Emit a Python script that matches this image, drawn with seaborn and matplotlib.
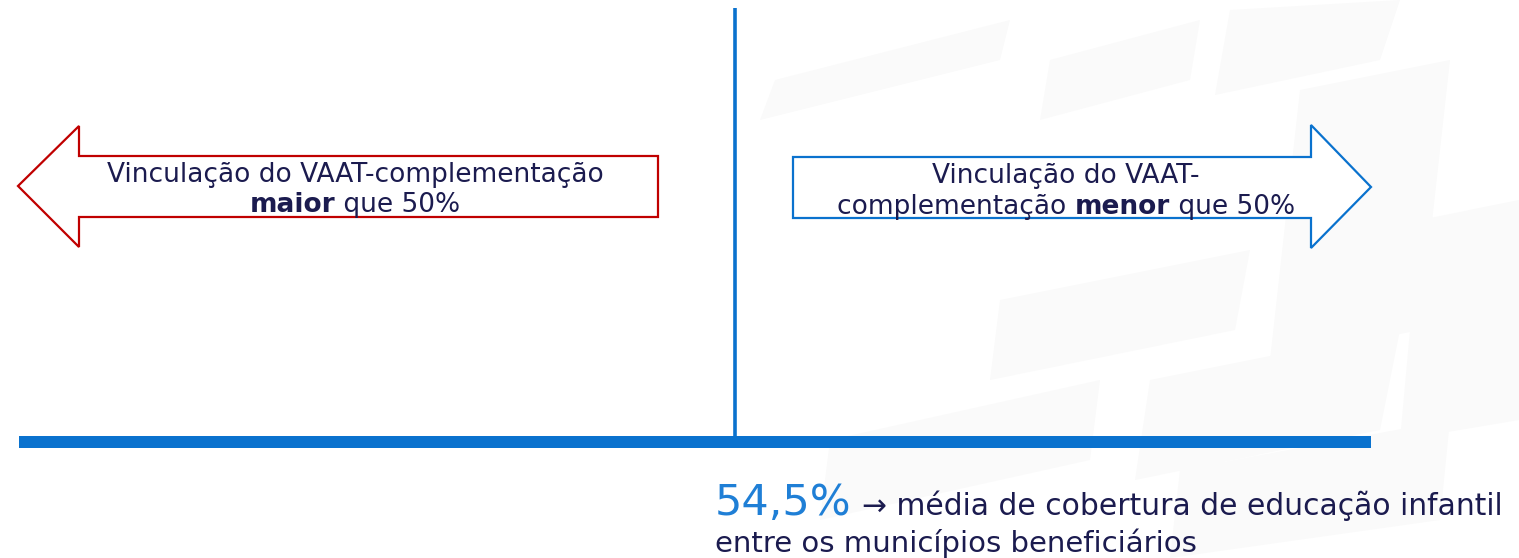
import matplotlib
matplotlib.use("Agg")
import matplotlib.pyplot as plt
from matplotlib.patches import Polygon, Rectangle
import seaborn as sns

# ---- content ----
left_lines = ["Vinculação do VAAT-complementação"]
left_bold = "maior"
left_tail = " que 50%"
right_lines = ["Vinculação do VAAT-"]
right_head = "complementação "
right_bold = "menor"
right_tail = " que 50%"
stat_value = "54,5%"
stat_text = ["\u2192 média de cobertura de educação infantil",
             "entre os municípios beneficiários"]

sns.set_theme(style="white")
plt.rcParams['font.family'] = ['DejaVu Sans']

W, H = 1519, 558
fig = plt.figure(figsize=(W / 100, H / 100), dpi=100)
ax = fig.add_axes([0, 0, 1, 1])
ax.set_xlim(0, W)
ax.set_ylim(H, 0)
ax.axis('off')

BLUE = "#0A72CE"
RED = "#C00000"
NAVY = "#1B1B4F"
LIGHT_BLUE = "#1F7FD6"
WM = "#FAFAFA"

# faint watermark shapes (background decoration)
wm_shapes = [
    [(760, 120), (1000, 60), (1010, 20), (775, 80)],
    [(1050, 60), (1200, 20), (1190, 80), (1040, 120)],
    [(1230, 10), (1400, 0), (1380, 60), (1215, 95)],
    [(1300, 90), (1450, 60), (1420, 330), (1270, 360)],
    [(1000, 300), (1250, 250), (1235, 330), (990, 380)],
    [(830, 440), (1100, 380), (1090, 460), (820, 520)],
    [(1150, 380), (1400, 330), (1380, 430), (1135, 480)],
    [(1420, 220), (1519, 200), (1519, 420), (1400, 440)],
    [(1180, 470), (1450, 420), (1440, 520), (1170, 558)],
]
for s in wm_shapes:
    ax.add_patch(Polygon(s, closed=True, facecolor=WM, edgecolor='none', zorder=0))

# vertical divider
ax.plot([735, 735], [8, 440], color=BLUE, lw=2.6, solid_capstyle='butt', zorder=2)
# horizontal bar
ax.add_patch(Rectangle((19, 436), 1352, 12, facecolor=BLUE, edgecolor='none', zorder=3))

# arrows
left_arrow = [(18, 186), (79, 126), (79, 156), (658, 156), (658, 217), (79, 217), (79, 247)]
right_arrow = [(793, 157), (1311, 157), (1311, 125), (1371, 187), (1311, 248), (1311, 218), (793, 218)]
ax.add_patch(Polygon(left_arrow, closed=True, facecolor='white', edgecolor=RED, lw=1.6, joinstyle='miter', zorder=4))
ax.add_patch(Polygon(right_arrow, closed=True, facecolor='white', edgecolor=BLUE, lw=1.6, joinstyle='miter', zorder=4))

FS = 19
# left text
ax.text(355, 182, left_lines[0], ha='center', va='baseline', fontsize=FS, color=NAVY, zorder=5)
# right text
ax.text(1066, 183, right_lines[0], ha='center', va='baseline', fontsize=FS, color=NAVY, zorder=5)

fig.canvas.draw()
r = fig.canvas.get_renderer()


def centered_run(pieces, cx, y):
    texts = []
    for s, w in pieces:
        t = ax.text(0, y, s, ha='left', va='baseline', fontsize=FS, color=NAVY,
                    fontweight=w, zorder=5)
        texts.append(t)
    widths = [t.get_window_extent(renderer=r).width for t in texts]
    total = sum(widths)
    x = cx - total / 2
    for t, wd in zip(texts, widths):
        t.set_x(x)
        x += wd


centered_run([(left_bold, 'bold'), (left_tail, 'normal')], 355, 212)
centered_run([(right_head, 'normal'), (right_bold, 'bold'), (right_tail, 'normal')], 1066, 214)

# bottom statistic
ax.text(715, 515, stat_value, ha='left', va='baseline', fontsize=31, color=LIGHT_BLUE, zorder=5)
ax.text(862, 515, stat_text[0], ha='left', va='baseline', fontsize=21.4, color=NAVY, zorder=5)
ax.text(715, 552, stat_text[1], ha='left', va='baseline', fontsize=21, color=NAVY, zorder=5)

fig.savefig("out.png", dpi=100, facecolor='white')
